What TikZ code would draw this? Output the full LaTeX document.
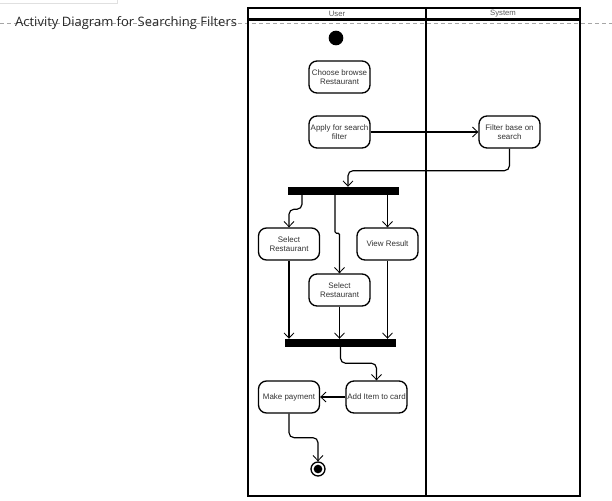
\documentclass[tikz,border=0pt]{standalone}
\usepackage{fontspec}
\setmainfont{Liberation Sans}
\newfontfamily\titlefont{Open Sans}
\usetikzlibrary{arrows.meta}

\begin{document}
\begin{tikzpicture}[
	action/.style={rectangle,draw,line width=0.04cm,rounded corners=0.24cm,minimum width=1.83cm,minimum height=0.96cm,inner sep=0cm,align=center,text=black!80,font=\fontsize{6.8}{7.7}\selectfont},
	bar/.style={rectangle,fill=black,minimum width=3.33cm,minimum height=0.24cm,inner sep=0cm},
	flow/.style={line width=0.035cm,-{Straight Barb[length=0.16cm,width=0.3cm,line width=0.025cm]},rounded corners=0.15cm},
	lanelabel/.style={inner sep=0cm,text=black!65,font=\fontsize{6.6}{7}\selectfont},
	lane/.style={line width=0.045cm}]
	
	\useasboundingbox (0cm,0cm) rectangle (18.36cm,-15cm);
	
	\draw[black!12,line width=0.02cm] (0cm,-0.1cm) -- (3.51cm,-0.1cm) -- (3.51cm,0cm);
	
	\draw[black!35,line width=0.03cm,dash pattern=on 0.12cm off 0.09cm] (0cm,-0.69cm) -- (18.36cm,-0.69cm);
	
	\node(title) [anchor=west,inner sep=0cm,text=black!85,font=\titlefont\fontsize{11.1}{13}\selectfont] at (0.45cm,-0.69cm){Activity Diagram for Searching Filters};
	
	\draw[lane] (7.44cm,-0.24cm) rectangle (17.4cm,-14.88cm);
	
	\draw[lane] (12.78cm,-0.24cm) -- (12.78cm,-14.88cm);
	
	\draw[line width=0.07cm] (7.44cm,-0.585cm) -- (17.4cm,-0.585cm);
	
	\node(userlabel) [lanelabel] at (10.11cm,-0.41cm){User};
	
	\node(systemlabel) [lanelabel] at (15.09cm,-0.41cm){System};
	
	\node(start) [circle,fill=black,minimum size=0.44cm,inner sep=0cm] at (10.08cm,-1.14cm){};
	
	\node(browse) [action] at (10.185cm,-2.31cm){Choose browse\\Restaurant};
	
	\node(apply) [action] at (10.185cm,-3.96cm){Apply for search\\filter};
	
	\node(filter) [action] at (15.285cm,-3.96cm){Filter base on\\search};
	
	\node(fork) [bar] at (10.305cm,-5.73cm){};
	
	\node(selectleft) [action] at (8.67cm,-7.32cm){Select\\Restaurant};
	
	\node(selectmid) [action] at (10.185cm,-8.7cm){Select\\Restaurant};
	
	\node(view) [action] at (11.625cm,-7.32cm){View Result};
	
	\node(join) [bar] at (10.215cm,-10.29cm){};
	
	\node(additem) [action] at (11.295cm,-11.91cm){Add Item to card};
	
	\node(payment) [action] at (8.67cm,-11.91cm){Make payment};
	
	\node(final) [circle,draw,line width=0.04cm,minimum size=0.42cm,inner sep=0cm] at (9.54cm,-14.07cm){};
	
	\node(finaldot) [circle,fill=black,minimum size=0.26cm,inner sep=0cm] at (final){};
	
	\draw[flow] (apply.east) -- (filter.west);
	
	\draw[flow] (filter.south) -- ++(0cm,-0.66cm) -| ([xshift=0.135cm]fork.north);
	
	\draw[flow] ([xshift=-1.245cm]fork.south) -- ++(0cm,-0.42cm) -| (selectleft.north);
	
	\draw[flow,rounded corners=0.04cm] ([xshift=-0.255cm]fork.south) -- ++(0cm,-1.14cm) -| (selectmid.north);
	
	\draw[flow] (fork.south -| view.north) -- (view.north);
	
	\draw[flow] (selectleft.south) -- (selectleft.south |- join.north);
	
	\draw[flow] (selectmid.south) -- (selectmid.south |- join.north);
	
	\draw[flow] (view.south) -- (view.south |- join.north);
	
	\draw[flow] (join.south) -- ++(0cm,-0.48cm) -| (additem.north);
	
	\draw[flow] (additem.west) -- (payment.east);
	
	\draw[flow] (payment.south) -- ++(0cm,-0.72cm) -| (final.north);
	
\end{tikzpicture}
\end{document}
